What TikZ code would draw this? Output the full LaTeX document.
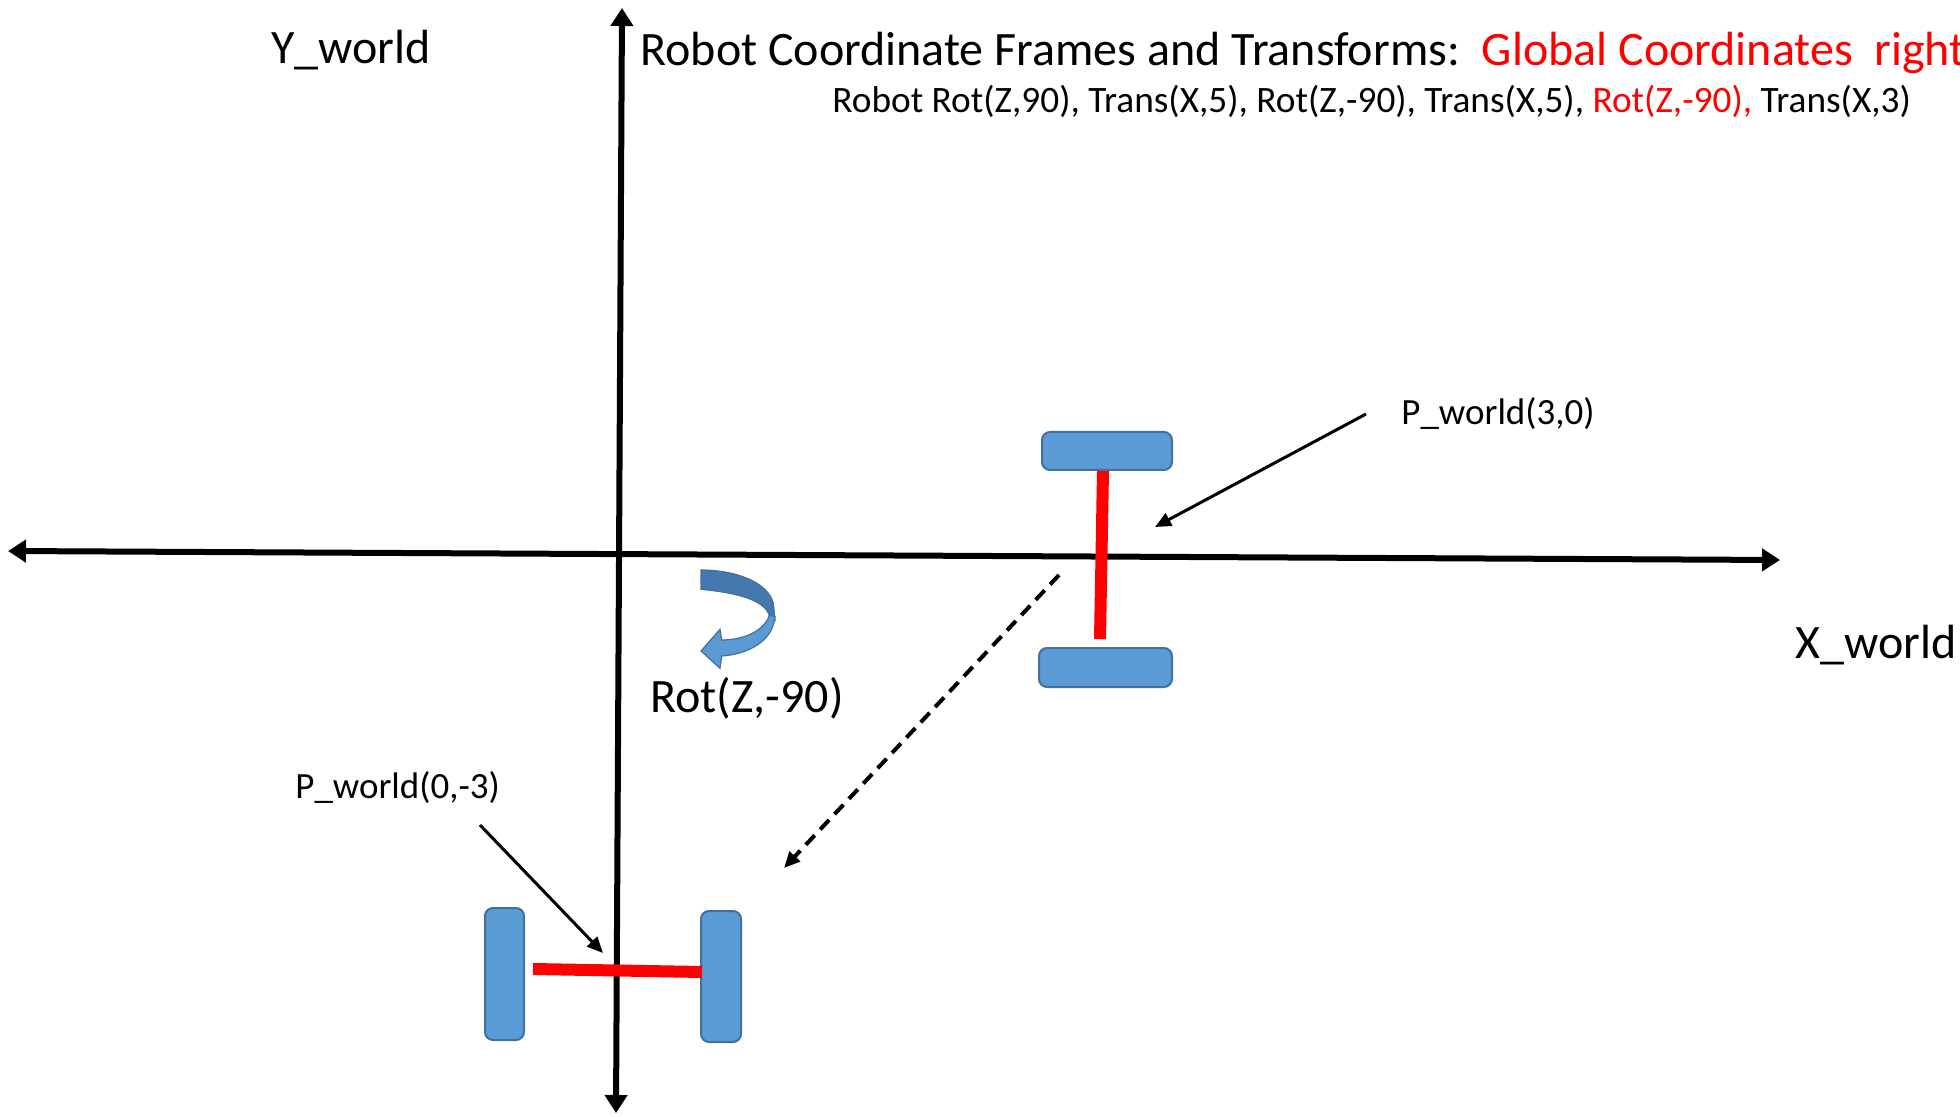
\documentclass[tikz,border=0pt]{standalone}
\usepackage{fontspec}
\setmainfont{Carlito}
\usetikzlibrary{arrows.meta}
\definecolor{wheelBlue}{HTML}{5B9BD5}
\definecolor{wheelEdge}{HTML}{41719C}
\definecolor{turnDark}{HTML}{4678B0}
\tikzset{
  bigtext/.style={font=\fontsize{24}{28}\selectfont, inner sep=0pt, anchor=base west},
  smalltext/.style={font=\fontsize{18.5}{22}\selectfont, inner sep=0pt, anchor=base west},
  axisline/.style={line width=3pt},
  pointer/.style={line width=1.5pt, -{Triangle[length=8pt,width=7pt]}},
  moveline/.style={line width=2pt, dash pattern=on 6.5pt off 4pt, -{Triangle[length=8pt,width=7pt]}},
  wheel/.style={draw=wheelEdge, fill=wheelBlue, line width=1pt, rounded corners=4pt, inner sep=0pt},
  axle/.style={draw=red, line width=6pt}
}
\begin{document}
\begin{tikzpicture}[x=0.5pt,y=-0.5pt]
\clip (0,0) rectangle (1960,1117);
\fill[white] (0,0) rectangle (1960,1117);

% world axes
\coordinate (xl) at (8,551);
\coordinate (xr) at (1780,560);
\coordinate (yt) at (622,8);
\coordinate (yb) at (616,1113);
\draw[axisline, {Triangle[length=9pt,width=11pt]}-{Triangle[length=9pt,width=11pt]}] (xl) -- (xr);
\draw[axisline, {Triangle[length=9pt,width=11pt]}-{Triangle[length=9pt,width=11pt]}] (yt) -- (yb);

% labels
\node[bigtext] (ylab) at (271,64) {Y\_world};
\node[bigtext] (xlab) at (1795,658) {X\_world};
\node[bigtext] (title) at (640,66) {Robot Coordinate Frames and Transforms:\ \ \textcolor{red}{Global Coordinates\ \ right}};
\node[smalltext, font=\fontsize{18.65}{22}\selectfont] (steps) at (832,113) {Robot Rot(Z,90), Trans(X,5), Rot(Z,-90), Trans(X,5), \textcolor{red}{Rot(Z,-90),} Trans(X,3)};
\node[bigtext] (rotlab) at (650,712) {Rot(Z,-90)};
\node[smalltext] (p1lab) at (1401,425) {P\_world(3,0)};
\node[smalltext] (p2lab) at (295,798) {P\_world(0,-3)};

% robot before the turn
\node[wheel, minimum width=65pt, minimum height=19pt] (w1) at (1107,451) {};
\node[wheel, minimum width=66.5pt, minimum height=19.5pt] (w2) at (1105.5,667.5) {};
\coordinate (a1) at (1103,471);
\coordinate (a2) at (1100,639);
\draw[axle] (a1) -- (a2);

% robot after the turn
\node[wheel, minimum width=19.5pt, minimum height=66pt] (w3) at (504.5,974) {};
\node[wheel, minimum width=20pt, minimum height=65.5pt] (w4) at (721,976.5) {};
\coordinate (a3) at (533,969);
\coordinate (a4) at (702,972);
\draw[axle] (a3) -- (a4);

% pointers to the robot origins
\coordinate (p1from) at (1366,414);
\coordinate (p1to) at (1155,527);
\draw[pointer] (p1from) -- (p1to);
\coordinate (p2from) at (480,825);
\coordinate (p2to) at (603,953);
\draw[pointer] (p2from) -- (p2to);

% motion between the two poses
\coordinate (mvfrom) at (1059,575);
\coordinate (mvto) at (784,868);
\draw[moveline] (mvfrom) -- (mvto);

% curved rotation arrow: back face (dark) and front face (light)
\filldraw[fill=turnDark, draw=wheelEdge, line width=0.6pt]
  (701,570) .. controls (735,570) and (768,582) .. (773.3,603.3)
  -- (775,620) -- (769.3,615)
  .. controls (765,604) and (750,594) .. (701,589.3) -- cycle;
\filldraw[fill=wheelBlue, draw=wheelEdge, line width=0.6pt]
  (775,616.7) .. controls (773,640) and (750,654) .. (721.7,656)
  -- (720,668.3) -- (701,651) -- (720,629.3) -- (721.7,640)
  .. controls (745,640) and (765,630) .. (769.3,615) -- cycle;
\end{tikzpicture}
\end{document}
